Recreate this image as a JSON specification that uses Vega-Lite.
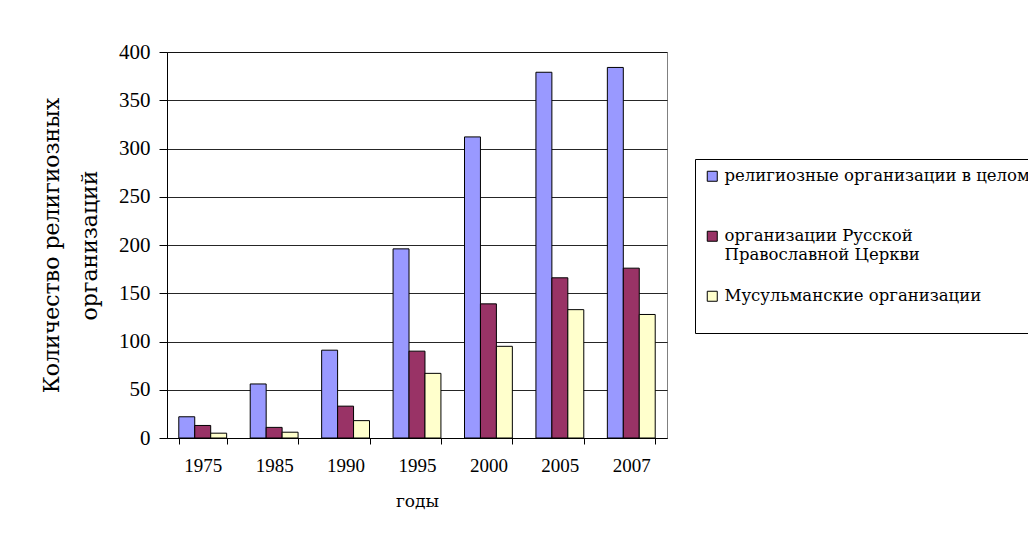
{
  "$schema": "https://vega.github.io/schema/vega-lite/v6.json",
  "width": 500,
  "height": 386,
  "autosize": "none",
  "padding": {"left": 167, "top": 52, "right": 361, "bottom": 99},
  "background": "white",
  "config": {
    "font": "DejaVu Serif",
    "view": {"stroke": "#808080", "strokeWidth": 1}
  },
  "data": {"values": [
    {"year": "1975", "series": "религиозные организации в целом", "value": 22},
    {"year": "1975", "series": "организации Русской Православной Церкви", "value": 13},
    {"year": "1975", "series": "Мусульманские организации", "value": 5},
    {"year": "1985", "series": "религиозные организации в целом", "value": 56},
    {"year": "1985", "series": "организации Русской Православной Церкви", "value": 11},
    {"year": "1985", "series": "Мусульманские организации", "value": 6},
    {"year": "1990", "series": "религиозные организации в целом", "value": 91},
    {"year": "1990", "series": "организации Русской Православной Церкви", "value": 33},
    {"year": "1990", "series": "Мусульманские организации", "value": 18},
    {"year": "1995", "series": "религиозные организации в целом", "value": 196},
    {"year": "1995", "series": "организации Русской Православной Церкви", "value": 90},
    {"year": "1995", "series": "Мусульманские организации", "value": 67},
    {"year": "2000", "series": "религиозные организации в целом", "value": 312},
    {"year": "2000", "series": "организации Русской Православной Церкви", "value": 139},
    {"year": "2000", "series": "Мусульманские организации", "value": 95},
    {"year": "2005", "series": "религиозные организации в целом", "value": 379},
    {"year": "2005", "series": "организации Русской Православной Церкви", "value": 166},
    {"year": "2005", "series": "Мусульманские организации", "value": 133},
    {"year": "2007", "series": "религиозные организации в целом", "value": 384},
    {"year": "2007", "series": "организации Русской Православной Церкви", "value": 176},
    {"year": "2007", "series": "Мусульманские организации", "value": 128}
  ]},
  "mark": {"type": "bar", "stroke": "black", "strokeWidth": 1},
  "encoding": {
    "x": {
      "field": "year", "type": "nominal",
      "sort": ["1975", "1985", "1990", "1995", "2000", "2005", "2007"],
      "scale": {"paddingInner": 0.33, "paddingOuter": 0.165},
      "axis": {
        "title": "годы", "labelAngle": 0, "labelFontSize": 19, "labelColor": "black",
        "labelFont": "Liberation Serif", "titleFont": "DejaVu Serif",
        "labelPadding": 12, "tickBand": "extent", "tickSize": 6, "tickColor": "black",
        "domainColor": "black", "titleFontSize": 17, "titleFontWeight": "normal",
        "titlePadding": 18, "titleColor": "black", "grid": false
      }
    },
    "xOffset": {
      "field": "series", "type": "nominal",
      "sort": ["религиозные организации в целом", "организации Русской Православной Церкви", "Мусульманские организации"]
    },
    "y": {
      "field": "value", "type": "quantitative",
      "scale": {"domain": [0, 400], "nice": false},
      "axis": {
        "values": [0, 50, 100, 150, 200, 250, 300, 350, 400],
        "title": ["Количество религиозных", "организаций"],
        "labelFont": "Liberation Serif", "titleFont": "DejaVu Serif",
        "labelFontSize": 21, "labelColor": "black", "labelPadding": 9,
        "tickSize": 8, "tickColor": "black", "domainColor": "black",
        "gridColor": "black", "gridOpacity": 0.85,
        "titleFontSize": 22, "titleFontWeight": "normal", "titlePadding": 17,
        "titleColor": "black", "titleLineHeight": 38
      }
    },
    "color": {
      "field": "series", "type": "nominal",
      "scale": {
        "domain": ["религиозные организации в целом", "организации Русской Православной Церкви", "Мусульманские организации"],
        "range": ["#9999FF", "#993366", "#FFFFCC"]
      },
      "legend": {
        "title": null, "orient": "none", "legendX": 528, "legendY": 107,
        "strokeColor": "black", "fillColor": "white", "padding": 9,
        "symbolType": "square", "symbolSize": 100, "symbolStrokeColor": "black",
        "symbolStrokeWidth": 1, "symbolOpacity": 1,
        "labelFont": "DejaVu Serif",
        "labelFontSize": 16.5, "labelColor": "black", "labelOffset": 4, "labelLimit": 0,
        "rowPadding": 24, "labelLineHeight": 25,
        "labelExpr": "datum.label == 'организации Русской Православной Церкви' ? ['организации Русской', 'Православной Церкви'] : [datum.label, ' ']"
      }
    }
  }
}
